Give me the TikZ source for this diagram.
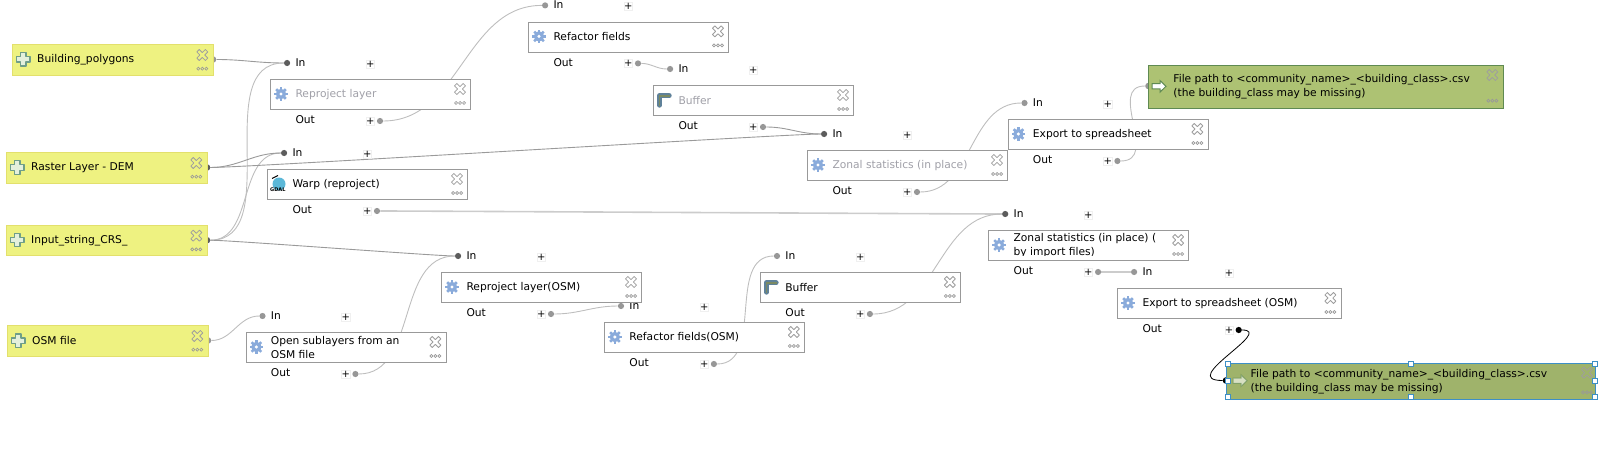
\documentclass[tikz,border=0pt]{standalone}
\usepackage{fontspec}
\setmainfont{DejaVu Sans}
\usetikzlibrary{positioning}

\definecolor{boxgray}{HTML}{999999}
\definecolor{paleText}{HTML}{A0A0A8}
\definecolor{wireGray}{HTML}{BEBEBE}
\definecolor{wireDark}{HTML}{9A9A9A}
\definecolor{dotGray}{HTML}{979797}
\definecolor{dotDark}{HTML}{5C5C5C}
\definecolor{paramFill}{HTML}{EEF281}
\definecolor{paramLine}{HTML}{E3E06C}
\definecolor{resultFill}{HTML}{ADC273}
\definecolor{resultLine}{HTML}{5F8A52}
\definecolor{pickedFill}{HTML}{9FB36B}
\definecolor{pickedLine}{HTML}{3D8FC6}
\definecolor{gearBlue}{HTML}{8AABDB}
\definecolor{buffBlue}{HTML}{5F8199}
\definecolor{buffCore}{HTML}{7B8A63}
\definecolor{crossLine}{HTML}{6F9E88}
\definecolor{crossFill}{HTML}{E4F0DC}
\definecolor{globeBlue}{HTML}{5CB8D8}

\pgfdeclarelayer{wires}
\pgfsetlayers{wires,main}

\tikzset{
  every node/.style={font=\fontsize{10.7}{14}\selectfont},
  algobox/.style={draw=boxgray,fill=white,line width=1pt,anchor=north west,minimum height=30pt,inner sep=0pt},
  parambox/.style={draw=paramLine,fill=paramFill,line width=1pt,anchor=north west,minimum width=200.4pt,minimum height=30.4pt,inner sep=0pt},
  resultbox/.style={draw=resultLine,fill=resultFill,line width=1pt,anchor=north west,inner sep=0pt},
  boxlabel/.style={anchor=west,inner sep=0pt,align=left},
  portlabel/.style={anchor=west,inner sep=0pt},
  portdot/.style={circle,inner sep=0pt,minimum size=6.6pt},
  plusmark/.style={draw=black!6,fill=white,line width=.6pt,inner sep=0pt,minimum size=8pt,font=\fontsize{10}{10}\selectfont},
  handlebox/.style={draw=pickedLine,fill=white,line width=1pt,inner sep=0pt,minimum size=5pt},
  wire/.style={draw=wireGray,line width=.9pt},
  wirefat/.style={draw=black!20,line width=1.6pt},
  gearicon/.pic={
    \foreach \a in {0,45,...,315} \draw[gearBlue,line width=2.6pt] (0,0) -- (\a:6.8);
    \fill[gearBlue] (0,0) circle (5.2);
    \fill[white] (0,0) circle (1.7);
  },
  bufficon/.pic={
    \draw[buffBlue,line width=5pt,line join=round,line cap=round] (-4.4,5.2) -- (-4.4,-4.2) -- (5.2,-4.2);
    \draw[buffCore,line width=1.5pt] (-4.4,6) -- (-4.4,-4.2) -- (6,-4.2);
  },
  crossicon/.pic={
    \draw[crossLine,fill=crossFill,line width=1.2pt,line join=round]
      (-2.6,-6.6) -- (2.6,-6.6) -- (2.6,-2.6) -- (6.6,-2.6) -- (6.6,2.6) -- (2.6,2.6) -- (2.6,6.6)
      -- (-2.6,6.6) -- (-2.6,2.6) -- (-6.6,2.6) -- (-6.6,-2.6) -- (-2.6,-2.6) -- cycle;
  },
  arrowicon/.pic={
    \draw[resultLine,fill=white,line width=1pt,line join=miter]
      (-7,-2.6) -- (1,-2.6) -- (1,-5.8) -- (7,0) -- (1,5.8) -- (1,2.6) -- (-7,2.6) -- cycle;
  },
  closeicon/.pic={
    \draw[black!38,line width=.8pt,line join=round]
      (-5.5,-3.1) -- (-3.1,-5.5) -- (0,-2.4) -- (3.1,-5.5) -- (5.5,-3.1) -- (2.4,0)
      -- (5.5,3.1) -- (3.1,5.5) -- (0,2.4) -- (-3.1,5.5) -- (-5.5,3.1) -- (-2.4,0) -- cycle;
  },
  moreicon/.pic={
    \foreach \d in {-4,0,4} \draw[black!40,line width=.7pt] (\d,0) circle (1.5);
  },
}

\begin{document}
\begin{tikzpicture}[x=1pt,y=-1pt]
    \useasboundingbox (0,0) rectangle (1609,476);

    % parameters: ports first, boxes over them
    \foreach \name/\L/\T/\outdot/\txt in {
        buildingPolygons/12.3/44.3/dotGray/Building\_polygons,
        rasterDEM/6.3/152.3/dotDark/Raster Layer - DEM,
        inputCRS/6.3/225/dotDark/Input\_string\_CRS\_,
        osmFile/7.3/325.3/dotGray/OSM file} {
        \node[portdot,fill=\outdot] (\name-out) at (\L+200.7,\T+15.2) {};
        \node[parambox] (\name) at (\L,\T) {};
        \pic at (\L+11,\T+15.2) {crossicon};
        \node[boxlabel] (\name-label) at (\L+24.7,\T+15.2) {\txt};
        \pic at (\L+190,\T+10.7) {closeicon};
        \pic at (\L+190,\T+24.4) {moreicon};
    }

    % ports of the algorithms
    \foreach \name/\L/\T/\W/\indot/\outdot in {
        reprojectLayer/270.3/79.3/200/dotDark/dotGray,
        warpDEM/267.3/169.3/200/dotDark/dotGray,
        refactorFields/528.3/21.7/200/dotGray/dotGray,
        bufferLayer/653.3/85.3/200/dotGray/dotGray,
        zonalStats/807.3/150.3/200/dotDark/dotGray,
        exportSheet/1007.7/119.3/200/dotGray/dotGray,
        openSublayers/245.7/332.3/200/dotGray/dotGray,
        reprojectOSM/441.3/272.3/200/dotDark/dotGray,
        refactorOSM/604.2/322.3/200/dotGray/dotGray,
        bufferOSM/760.2/272.3/200/dotGray/dotGray,
        zonalOSM/988.4/230.3/200/dotDark/dotGray,
        exportOSM/1117.3/288.3/223.4/dotGray/black} {
        \node[portdot,fill=\indot,minimum size=6.2pt] (\name-in) at (\L+16.8,\T-16.3) {};
        \node[portlabel] (\name-intxt) at (\L+25,\T-16.8) {In};
        \node[plusmark] (\name-inplus) at (\L+\W/2,\T-15) {+};
        \node[portlabel] (\name-outtxt) at (\L+25,\T+40.8) {Out};
        \node[plusmark] (\name-outplus) at (\L+\W/2,\T+42) {+};
        \node[portdot,fill=\outdot,minimum size=6.2pt] (\name-out) at (\L+\W/2+9.7,\T+41.7) {};
    }

    % algorithm boxes
    \foreach \name/\L/\T/\W/\txtcol/\icon/\txt in {
        reprojectLayer/270.3/79.3/200/paleText/gearicon/Reproject layer,
        warpDEM/267.3/169.3/200/black//Warp (reproject),
        refactorFields/528.3/21.7/200/black/gearicon/Refactor fields,
        bufferLayer/653.3/85.3/200/paleText/bufficon/Buffer,
        zonalStats/807.3/150.3/200/paleText/gearicon/Zonal statistics (in place),
        exportSheet/1007.7/119.3/200/black/gearicon/Export to spreadsheet,
        openSublayers/245.7/332.3/200/black/gearicon/{Open sublayers from an\\OSM file},
        reprojectOSM/441.3/272.3/200/black/gearicon/Reproject layer(OSM),
        refactorOSM/604.2/322.3/200/black/gearicon/Refactor fields(OSM),
        bufferOSM/760.2/272.3/200/black/bufficon/Buffer,
        zonalOSM/988.4/230.3/200/black/gearicon/{Zonal statistics (in place) (\\by import files)},
        exportOSM/1117.3/288.3/223.4/black/gearicon/Export to spreadsheet (OSM)} {
        \node[algobox,minimum width=\W pt] (\name) at (\L,\T) {};
        \ifx\icon\empty\else \pic at (\L+10.7,\T+14.7) {\icon}; \fi
        \begin{scope}
            \clip (\L,\T) rectangle (\L+\W,\T+25);
            \node[boxlabel,text=\txtcol] (\name-label) at (\L+25,\T+15) {\txt};
        \end{scope}
        \pic at (\L+\W-10.3,\T+9.7) {closeicon};
        \pic at (\L+\W-10.3,\T+23.7) {moreicon};
    }

    % gdal mark
    \fill[globeBlue] (279,184) circle (6.5);
    \draw[black,line width=1pt] (272,178.5) -- (278,175.5);
    \node[font=\fontsize{5}{6}\bfseries\selectfont,inner sep=0pt] (gdalMark) at (277.8,189.5) {GDAL};

    % results
    \node[portdot,fill=dotGray] (fileCSV-in) at (1148.5,86) {};
    \node[resultbox,minimum width=355pt,minimum height=42.4pt] (fileCSV) at (1148.3,65.3) {};
    \pic at (1159,86.3) {arrowicon};
    \node[boxlabel] (fileCSV-label) at (1173.2,86.4) {File path to <community\_name>\_<building\_class>.csv\\(the building\_class may be missing)};
    \pic at (1492.3,75) {closeicon};
    \pic at (1492.3,100.7) {moreicon};

    \node[portdot,fill=black] (fileOSM-in) at (1226,380.5) {};
    \node[resultbox,draw=pickedLine,fill=pickedFill,minimum width=368.5pt,minimum height=36.5pt] (fileOSM) at (1226,362.5) {};
    \pic[opacity=.6] at (1240,380.7) {arrowicon};
    \node[boxlabel] (fileOSM-label) at (1250.5,381.8) {File path to <community\_name>\_<building\_class>.csv\\(the building\_class may be missing)};
    \pic at (1587,372.7) {closeicon};
    \pic at (1587,392.3) {moreicon};

    % selection handles
    \foreach \hx/\hy in {1228/364.3,1411/364.3,1595/364.3,1228/380.7,1595/380.7,1228/397,1411/397,1595/397}
        \node[handlebox] at (\hx,\hy) {};

    % connectors
    \begin{pgfonlayer}{wires}
        \draw[wire,draw=wireDark] (buildingPolygons-out) to[out=0,in=180] (reprojectLayer-in);
        \draw[wire] (inputCRS-out) to[out=0,in=180] (reprojectLayer-in);
        \draw[wire] (inputCRS-out) to[out=0,in=180] (warpDEM-in);
        \draw[wire,draw=wireDark] (inputCRS-out) to[out=0,in=180,looseness=.2] (reprojectOSM-in);
        \draw[wire,draw=wireDark] (rasterDEM-out) to[out=0,in=180] (warpDEM-in);
        \draw[wire,draw=wireDark] (rasterDEM-out) to[out=0,in=180,looseness=.15] (zonalStats-in);
        \draw[wire] (osmFile-out) to[out=0,in=180] (openSublayers-in);
        \draw[wire] (reprojectLayer-out) to[out=0,in=180] (refactorFields-in);
        \draw[wire] (refactorFields-out) to[out=0,in=180] (bufferLayer-in);
        \draw[wire,draw=wireDark] (bufferLayer-out) to[out=0,in=180] (zonalStats-in);
        \draw[wire] (zonalStats-out) to[out=0,in=180] (exportSheet-in);
        \draw[wire] (exportSheet-out) .. controls +(43,0) and +(-42,0) .. (fileCSV-in);
        \draw[wirefat] (warpDEM-out) to[out=0,in=180,looseness=.15] (zonalOSM-in);
        \draw[wire] (openSublayers-out) to[out=0,in=180] (reprojectOSM-in);
        \draw[wire] (reprojectOSM-out) to[out=0,in=180] (refactorOSM-in);
        \draw[wire] (refactorOSM-out) to[out=0,in=180] (bufferOSM-in);
        \draw[wire] (bufferOSM-out) to[out=0,in=180] (zonalOSM-in);
        \draw[wirefat] (zonalOSM-out) -- (exportOSM-in);
        \draw[black,line width=.8pt] (exportOSM-out) .. controls +(37,0) and +(-49,0) .. (fileOSM-in);
    \end{pgfonlayer}
\end{tikzpicture}
\end{document}
